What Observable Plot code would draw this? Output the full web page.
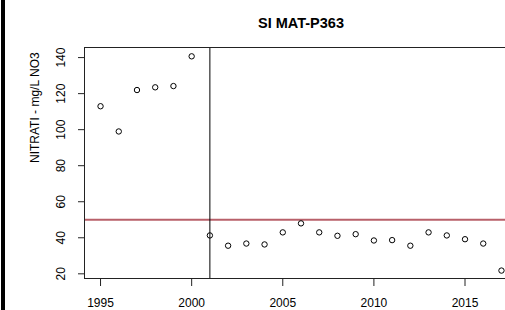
<!DOCTYPE html>
<html>
<head>
<meta charset="utf-8">
<script src="https://cdn.jsdelivr.net/npm/d3@7"></script>
<script src="https://cdn.jsdelivr.net/npm/@observablehq/plot@0.6"></script>
<style>
  html, body { margin: 0; padding: 0; background: #fff; }
  #wrap { position: relative; width: 505px; height: 310px; overflow: hidden; }
  #bar { position: absolute; left: 1px; top: 0; width: 4px; height: 310px; background: #000; }
</style>
</head>
<body>
<div id="wrap"><div id="bar"></div></div>
<script>
const title = "SI MAT-P363";
const yLabel = "NITRATI - mg/L NO3";
const years = [1995,1996,1997,1998,1999,2000,2001,2002,2003,2004,2005,2006,2007,2008,2009,2010,2011,2012,2013,2014,2015,2016,2017];
const nitrati = [113,99,122,123.5,124.2,140.7,41.3,35.6,36.8,36.3,43,48,43,41.1,42,38.5,38.7,35.6,43,41.3,39.2,36.8,21.8];
const xTicks = [1995,2000,2005,2010,2015];
const yTicks = [20,40,60,80,100,120,140];
const limitValue = 50;
const breakYear = 2001;

const data = years.map((y, i) => ({year: y, value: nitrati[i]}));

const chart = Plot.plot({
  width: 505,
  height: 310,
  marginLeft: 84,
  marginRight: -12,
  marginTop: 47,
  marginBottom: 32,
  style: {fontFamily: "'Liberation Sans', Arial, sans-serif", fontSize: "12px", background: "#fff", color: "#000"},
  x: {domain: [1994.12, 2017.88]},
  y: {domain: [17.4, 145.6]},
  marks: [
    Plot.ruleY([limitValue], {stroke: "#b8606a", strokeWidth: 2}),
    Plot.ruleX([breakYear], {stroke: "#000", strokeWidth: 1}),
    Plot.frame({stroke: "#222", strokeWidth: 1}),
    Plot.axisX({ticks: xTicks, tickFormat: d3.format("d"), tickSize: 8, tickPadding: 12, stroke: "#222", fontSize: 12, label: null}),
    Plot.axisY({ticks: yTicks, tickSize: 6, tickPadding: 14, tickRotate: -90, stroke: "#222", fontSize: 12, label: null}),
    Plot.dot(data, {x: "year", y: "value", r: 2.7, stroke: "#000", strokeWidth: 1, fill: "none"}),
    Plot.text([title], {frameAnchor: "top", dy: -30, text: d => d, fontWeight: "bold", fontSize: 14.5}),
    Plot.text([yLabel], {frameAnchor: "left", dx: -49, rotate: -90, text: d => d, fontSize: 12})
  ]
});
document.getElementById("wrap").appendChild(chart);
</script>
</body>
</html>
